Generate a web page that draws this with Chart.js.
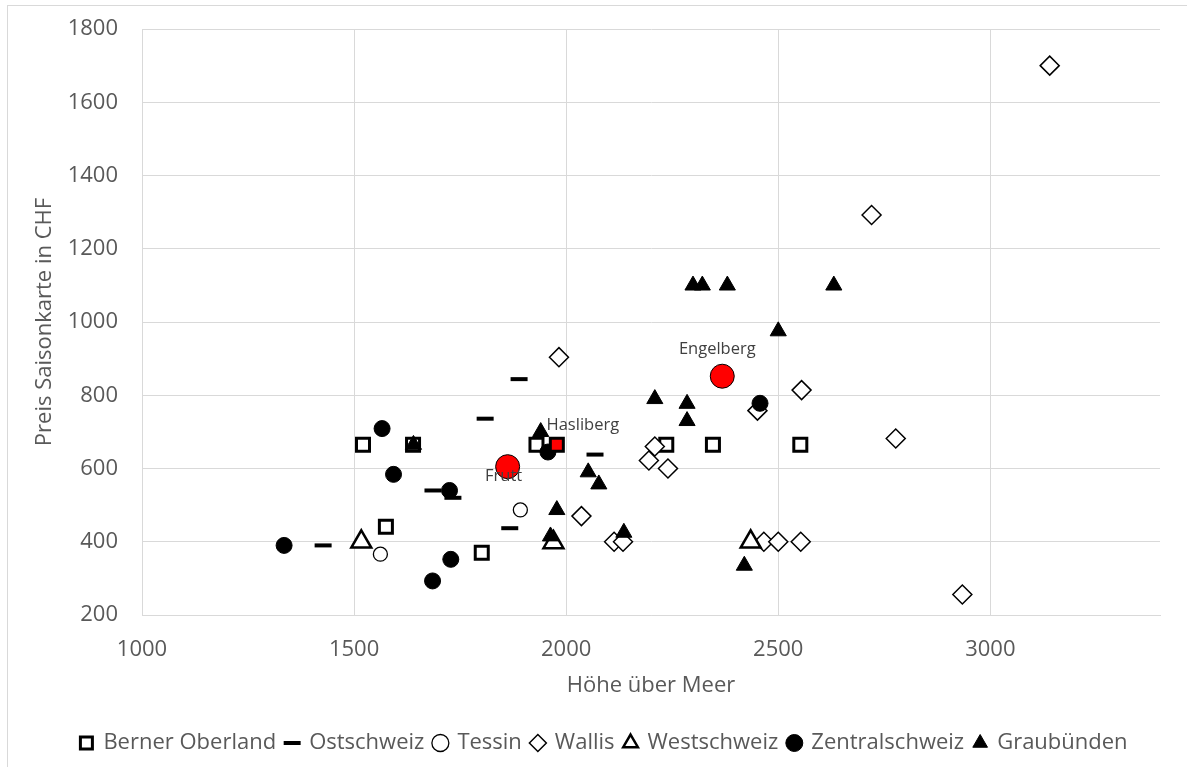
<!DOCTYPE html>
<html>
<head>
<meta charset="utf-8">
<script src="https://cdn.jsdelivr.net/npm/chart.js@4.4.1/dist/chart.umd.min.js"></script>
<style>
  html, body { margin: 0; padding: 0; background: #fff; }
  #wrap { position: relative; width: 1187px; height: 767px; overflow: hidden; }
  #frame { position: absolute; left: 7px; top: 5px; width: 1300px; height: 900px; border-left: 1px solid #d9d9d9; border-top: 1px solid #d9d9d9; }
  #chart { position: absolute; left: 0; top: 0; }
</style>
</head>
<body>
<div id="wrap">
  <div id="frame"></div>
  <canvas id="chart" width="1187" height="767"></canvas>
</div>
<script>
// Höhe über Meer (x) / Preis Saisonkarte in CHF (y)
const bernerX = [1521, 1575, 1639, 1801, 1930, 2236, 2346, 2552];
const bernerY = [665, 441, 665, 370, 665, 665, 665, 665];

const ostX = [1427, 1686, 1733, 1809, 1867, 1889, 2068];
const ostY = [390, 540, 520, 736, 437, 844, 638];

const tessinX = [1562, 1892];
const tessinY = [366, 487];

const wallisX = [1983, 2036, 2113, 2134, 2195, 2209, 2240, 2451, 2466, 2500, 2553, 2555, 2720, 2777, 2934, 3140];
const wallisY = [904, 470, 400, 400, 622, 660, 600, 758, 400, 400, 400, 814, 1292, 682, 256, 1700];

const westX = [1517, 1970, 2435];
const westY = [400, 398, 400];

const zentralX = [1335, 1566, 1593, 1685, 1725, 1728, 1957, 2457];
const zentralY = [390, 709, 584, 293, 540, 352, 645, 778];

const graubX = [1640, 1940, 1963, 1978, 2052, 2077, 2136, 2209, 2285, 2285, 2299, 2321, 2380, 2420, 2500, 2631];
const graubY = [665, 700, 415, 487, 590, 557, 425, 790, 777, 730, 1100, 1100, 1100, 335, 975, 1100];

// highlighted resorts (red markers with labels)
const highlightNames = ["Frutt", "Hasliberg", "Engelberg"];
const highlightX = [1862, 1978, 2368];
const highlightY = [605, 665, 852];

const xRange = [1000, 3400];
const xTickValues = [1000, 1500, 2000, 2500, 3000];
const yRange = [200, 1800];
const yTickValues = [200, 400, 600, 800, 1000, 1200, 1400, 1600, 1800];

const toPoints = (xs, ys) => xs.map((x, i) => ({ x, y: ys[i] }));

Chart.defaults.font.family = "'Open Sans', sans-serif";
Chart.defaults.color = "#595959";

const grid = "#d9d9d9";

function series(label, xs, ys, style, order) {
  return Object.assign({ label, data: toPoints(xs, ys), order, showLine: false }, style);
}

const datasets = [
  series("Berner Oberland", bernerX, bernerY, { pointStyle: "rect", pointRadius: 9.2, pointBorderWidth: 3, borderColor: "#000", backgroundColor: "#fff" }, 7),
  series("Ostschweiz", ostX, ostY, { pointStyle: "line", pointRadius: 8.5, pointBorderWidth: 4, borderColor: "#000", backgroundColor: "#000" }, 6),
  series("Tessin", tessinX, tessinY, { pointStyle: "circle", pointRadius: 7, pointBorderWidth: 1.3, borderColor: "#000", backgroundColor: "#fff" }, 5),
  series("Wallis", wallisX, wallisY, { pointStyle: "rectRot", pointRadius: 9.5, pointBorderWidth: 1.5, borderColor: "#000", backgroundColor: "#fff" }, 4),
  series("Westschweiz", westX, westY, { pointStyle: "triangle", pointRadius: 11.5, pointBorderWidth: 2.5, borderColor: "#000", backgroundColor: "#fff" }, 3),
  series("Zentralschweiz", zentralX, zentralY, { pointStyle: "circle", pointRadius: 8, pointBorderWidth: 1, borderColor: "#000", backgroundColor: "#000" }, 2),
  series("Graubünden", graubX, graubY, { pointStyle: "triangle", pointRadius: 9.3, pointBorderWidth: 1, borderColor: "#000", backgroundColor: "#000" }, 1),
  series("Destinationen", highlightX, highlightY, {
    pointStyle: ["circle", "rect", "circle"],
    pointRadius: [12, 9.2, 12],
    pointBorderWidth: [1, 3, 1],
    borderColor: "#000",
    backgroundColor: "#ff0000",
  }, 0),
];
const highlightIndex = datasets.length - 1;

// names next to the red markers
const highlightLabels = {
  id: "highlightLabels",
  afterDatasetsDraw(chart) {
    const offsets = [[-4, 10], [26, -19], [-5, -27]];
    const meta = chart.getDatasetMeta(highlightIndex);
    const ctx = chart.ctx;
    ctx.save();
    ctx.font = "16.5px 'Open Sans'";
    ctx.fillStyle = "#404040";
    ctx.textAlign = "center";
    ctx.textBaseline = "middle";
    meta.data.forEach((pt, i) => {
      const { x, y } = pt.getProps(["x", "y"], true);
      ctx.fillText(highlightNames[i], x + offsets[i][0], y + offsets[i][1]);
    });
    ctx.restore();
  },
};

// the legend in the reference sits a bit right of centre
const legendShift = {
  id: "legendShift",
  afterLayout(chart) {
    chart.legend.left += 20;
    chart.legend.right += 20;
  },
};

const fixedTicks = (values) => (scale) => {
  scale.ticks = values.map((value) => ({ value }));
};

new Chart(document.getElementById("chart"), {
  type: "scatter",
  data: { datasets },
  plugins: [highlightLabels, legendShift],
  options: {
    responsive: false,
    animation: false,
    layout: { padding: { left: 8, right: 27, top: 29, bottom: 3 } },
    plugins: {
      tooltip: { enabled: false },
      legend: {
        position: "bottom",
        labels: {
          usePointStyle: true,
          boxWidth: 12,
          boxHeight: 12,
          padding: 10,
          color: "#595959",
          font: { size: 22 },
          filter: (item) => item.datasetIndex !== highlightIndex,
          sort: (a, b) => a.datasetIndex - b.datasetIndex,
        },
      },
    },
    scales: {
      x: {
        type: "linear",
        min: xRange[0],
        max: xRange[1],
        afterBuildTicks: fixedTicks(xTickValues),
        afterFit: (s) => { s.height = 107; },
        ticks: { padding: 22, font: { size: 22 }, color: "#595959", callback: (v) => String(v) },
        grid: { color: grid, drawTicks: false },
        border: { color: grid },
        title: { display: true, text: "Höhe über Meer", font: { size: 22 }, color: "#595959", padding: { top: 0, bottom: 23 } },
      },
      y: {
        min: yRange[0],
        max: yRange[1],
        afterBuildTicks: fixedTicks(yTickValues),
        afterFit: (s) => {
          s.width = 134;
          s.paddingTop = 0;
          s.paddingBottom = 0;
        },
        ticks: { padding: 24, font: { size: 22 }, color: "#595959", callback: (v) => String(v) },
        grid: { color: grid, drawTicks: false },
        border: { color: grid },
        title: { display: true, text: "Preis Saisonkarte in CHF", font: { size: 22 }, color: "#595959", padding: { top: 24, bottom: 0 } },
      },
    },
  },
});
</script>
</body>
</html>
